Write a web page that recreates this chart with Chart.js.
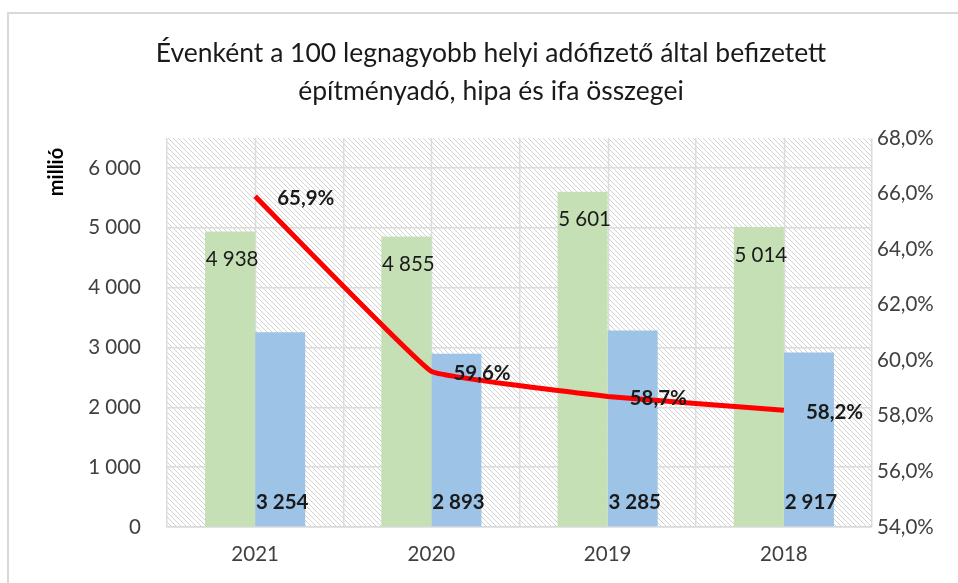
<!DOCTYPE html>
<html>
<head>
<meta charset="utf-8">
<script src="https://cdn.jsdelivr.net/npm/chart.js@4/dist/chart.umd.min.js"></script>
<style>
html,body{margin:0;padding:0;background:#fff;}
#wrap{width:958px;height:583px;position:relative;}
</style>
</head>
<body>
<div id="wrap"><canvas id="c" width="958" height="583"></canvas></div>
<script>
// ---- data ----
const years = ['2021', '2020', '2019', '2018'];
const greenValues = [4938, 4855, 5601, 5014];
const blueValues = [3254, 2893, 3285, 2917];
const shareValues = [65.9, 59.6, 58.7, 58.2];
const leftTicks = [0, 1000, 2000, 3000, 4000, 5000, 6000];
const rightTicks = [54, 56, 58, 60, 62, 64, 66, 68];
const titleLines = ['Évenként a 100 legnagyobb helyi adófizető által befizetett', 'építményadó, hipa és ifa összegei'];
const leftAxisTitle = 'millió';

const FONT = 'Lato';
const TICK_SIZE = 20.5;
const fmtThousands = v => String(Math.round(v)).replace(/\B(?=(\d{3})+(?!\d))/g, ' ');
const fmtPct = v => v.toFixed(1).replace('.', ',') + '%';

const decor = {
  id: 'decor',
  beforeDraw(chart) {
    const {ctx, chartArea: a} = chart;
    ctx.save();
    // outer border
    ctx.strokeStyle = '#d9d9d9';
    ctx.lineWidth = 2;
    ctx.strokeRect(8, 13, 1000, 600);
    // hatch background
    const c = document.createElement('canvas');
    c.width = 5; c.height = 5;
    const g = c.getContext('2d');
    g.fillStyle = '#ffffff'; g.fillRect(0, 0, 5, 5);
    g.fillStyle = '#d2d2d2';
    for (let i = 0; i < 5; i++) g.fillRect(i, i, 1, 1);
    ctx.fillStyle = ctx.createPattern(c, 'repeat');
    ctx.fillRect(a.left, a.top, a.right - a.left, a.bottom - a.top);
    ctx.restore();
  },
  beforeDatasetsDraw(chart) {
    const {ctx, chartArea: a, scales} = chart;
    ctx.save();
    ctx.strokeStyle = '#dcdcdc';
    ctx.lineWidth = 1.5;
    years.forEach((y, i) => {
      const x = Math.round(scales.x.getPixelForValue(i)) + 0.5;
      ctx.beginPath(); ctx.moveTo(x, a.top); ctx.lineTo(x, a.bottom); ctx.stroke();
    });
    // left axis title
    ctx.translate(57, 172);
    ctx.rotate(-Math.PI / 2);
    ctx.fillStyle = '#000';
    ctx.font = 'bold 20px ' + FONT;
    ctx.textAlign = 'center';
    ctx.textBaseline = 'middle';
    ctx.fillText(leftAxisTitle, 0, 0);
    ctx.restore();
  },
  afterDatasetsDraw(chart) {
    const {ctx} = chart;
    ctx.save();
    ctx.textBaseline = 'middle';
    const g = chart.getDatasetMeta(0), b = chart.getDatasetMeta(1), l = chart.getDatasetMeta(2);
    ctx.fillStyle = '#1a1a1a';
    ctx.font = TICK_SIZE + 'px ' + FONT;
    ctx.textAlign = 'center';
    g.data.forEach((el, i) => ctx.fillText(fmtThousands(greenValues[i]), el.x + 2, el.y + 28));
    ctx.font = 'bold ' + TICK_SIZE + 'px ' + FONT;
    b.data.forEach((el, i) => ctx.fillText(fmtThousands(blueValues[i]), el.x + 2, el.base - 24));
    ctx.textAlign = 'left';
    l.data.forEach((el, i) => ctx.fillText(fmtPct(shareValues[i]), el.x + 22, el.y + 2));
    ctx.restore();
  }
};

new Chart(document.getElementById('c'), {
  data: {
    labels: years,
    datasets: [
      {type: 'bar', data: greenValues, backgroundColor: '#c5e0b4', yAxisID: 'y', order: 2,
       barPercentage: 1, categoryPercentage: 0.568},
      {type: 'bar', data: blueValues, backgroundColor: '#9dc3e6', yAxisID: 'y', order: 2,
       barPercentage: 1, categoryPercentage: 0.568},
      {type: 'line', data: shareValues, borderColor: '#ff0000', borderWidth: 5, pointRadius: 0,
       tension: 0.07, yAxisID: 'y1', order: 1, borderCapStyle: 'butt'}
    ]
  },
  options: {
    responsive: false,
    animation: false,
    layout: {padding: {left: 24, right: 0, top: 0, bottom: 0}},
    plugins: {
      legend: {display: false},
      tooltip: {enabled: false},
      title: {
        display: true,
        text: titleLines,
        color: '#1a1a1a',
        font: {family: FONT, size: 26.5, weight: 'normal', lineHeight: 38 / 26.5},
        padding: {top: 34, bottom: 28}
      }
    },
    scales: {
      x: {
        offset: true,
        grid: {display: true, offset: true, color: '#dcdcdc', lineWidth: 1.5, drawTicks: false},
        border: {display: true, color: '#d9d9d9', width: 1.5},
        ticks: {color: '#404040', font: {family: FONT, size: TICK_SIZE}, padding: 15},
        afterFit(s) { s.height = 56; }
      },
      y: {
        position: 'left',
        min: 0, max: 6500,
        ticks: {stepSize: 1000, color: '#404040', font: {family: FONT, size: TICK_SIZE}, padding: 26,
                callback: v => fmtThousands(v)},
        afterBuildTicks(s) { s.ticks = leftTicks.map(v => ({value: v})); },
        grid: {color: '#dcdcdc', lineWidth: 1.5, drawTicks: false},
        border: {display: false},
        afterFit(s) { s.width = 143; }
      },
      y1: {
        position: 'right',
        min: 54, max: 68,
        ticks: {stepSize: 2, color: '#404040', font: {family: FONT, size: TICK_SIZE}, padding: 5,
                callback: v => fmtPct(v)},
        afterBuildTicks(s) { s.ticks = rightTicks.map(v => ({value: v})); },
        grid: {display: false, drawTicks: false},
        border: {display: false},
        afterFit(s) { s.width = 86; }
      }
    }
  },
  plugins: [decor]
});
</script>
</body>
</html>
